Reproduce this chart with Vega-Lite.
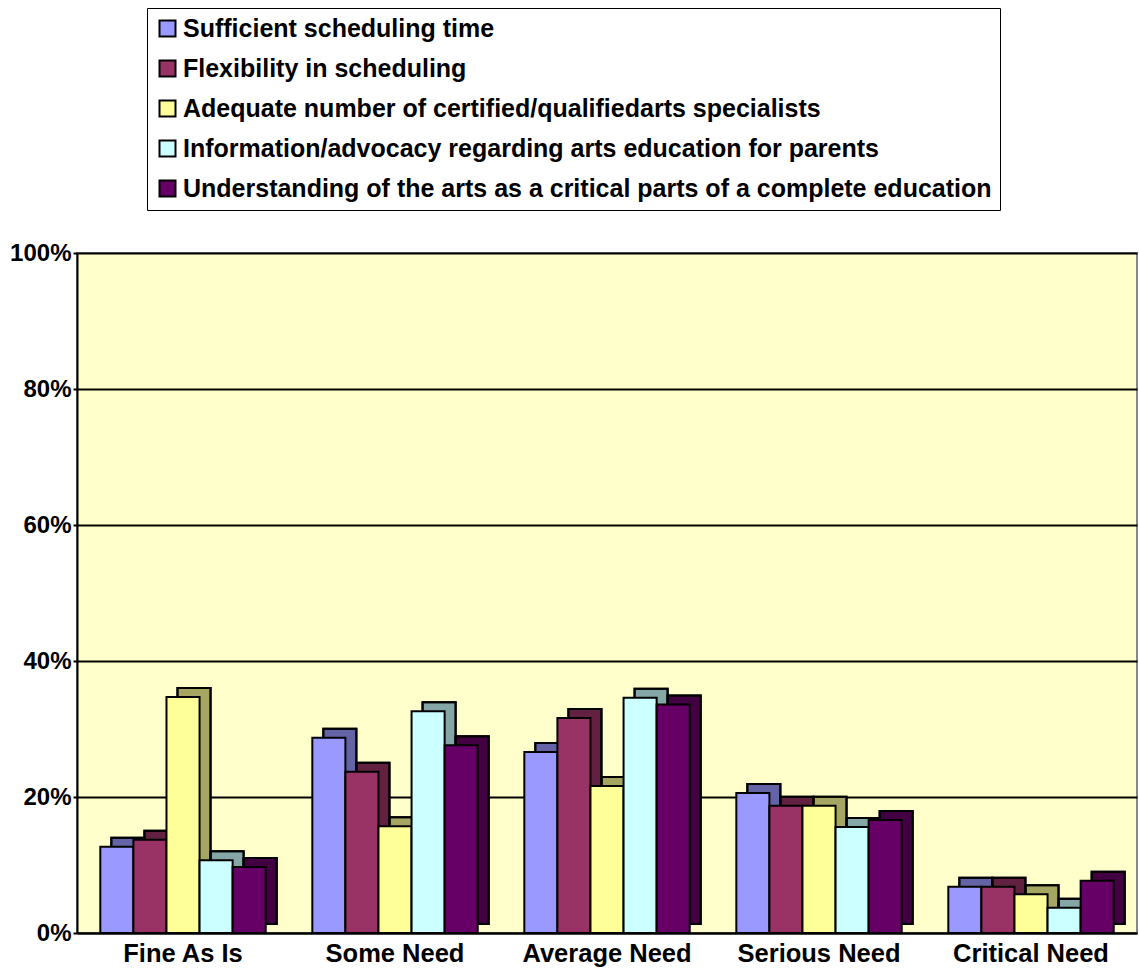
{
  "$schema": "https://vega.github.io/schema/vega-lite/v6.json",
  "autosize": "none",
  "width": 1060,
  "height": 680,
  "padding": {"left": 77, "top": 253, "right": 2, "bottom": 35},
  "background": "white",
  "config": {
    "font": "Liberation Sans",
    "view": {"fill": "#FFFFCC", "stroke": "#888888", "strokeWidth": 2}
  },
  "data": {
    "values": [
      {"cat": "Fine As Is", "series": "Sufficient scheduling time", "value": 12.7},
      {"cat": "Fine As Is", "series": "Flexibility in scheduling", "value": 13.7},
      {"cat": "Fine As Is", "series": "Adequate number of certified/qualifiedarts specialists", "value": 34.7},
      {"cat": "Fine As Is", "series": "Information/advocacy regarding arts education for parents", "value": 10.7},
      {"cat": "Fine As Is", "series": "Understanding of the arts as a critical parts of a complete education", "value": 9.7},
      {"cat": "Some Need", "series": "Sufficient scheduling time", "value": 28.7},
      {"cat": "Some Need", "series": "Flexibility in scheduling", "value": 23.7},
      {"cat": "Some Need", "series": "Adequate number of certified/qualifiedarts specialists", "value": 15.7},
      {"cat": "Some Need", "series": "Information/advocacy regarding arts education for parents", "value": 32.6},
      {"cat": "Some Need", "series": "Understanding of the arts as a critical parts of a complete education", "value": 27.6},
      {"cat": "Average Need", "series": "Sufficient scheduling time", "value": 26.6},
      {"cat": "Average Need", "series": "Flexibility in scheduling", "value": 31.6},
      {"cat": "Average Need", "series": "Adequate number of certified/qualifiedarts specialists", "value": 21.6},
      {"cat": "Average Need", "series": "Information/advocacy regarding arts education for parents", "value": 34.6},
      {"cat": "Average Need", "series": "Understanding of the arts as a critical parts of a complete education", "value": 33.6},
      {"cat": "Serious Need", "series": "Sufficient scheduling time", "value": 20.6},
      {"cat": "Serious Need", "series": "Flexibility in scheduling", "value": 18.7},
      {"cat": "Serious Need", "series": "Adequate number of certified/qualifiedarts specialists", "value": 18.7},
      {"cat": "Serious Need", "series": "Information/advocacy regarding arts education for parents", "value": 15.6},
      {"cat": "Serious Need", "series": "Understanding of the arts as a critical parts of a complete education", "value": 16.6},
      {"cat": "Critical Need", "series": "Sufficient scheduling time", "value": 6.8},
      {"cat": "Critical Need", "series": "Flexibility in scheduling", "value": 6.8},
      {"cat": "Critical Need", "series": "Adequate number of certified/qualifiedarts specialists", "value": 5.7},
      {"cat": "Critical Need", "series": "Information/advocacy regarding arts education for parents", "value": 3.7},
      {"cat": "Critical Need", "series": "Understanding of the arts as a critical parts of a complete education", "value": 7.7}
    ]
  },
  "encoding": {
    "x": {
      "field": "cat",
      "type": "nominal",
      "sort": ["Fine As Is", "Some Need", "Average Need", "Serious Need", "Critical Need"],
      "scale": {"paddingInner": 0.22, "paddingOuter": 0.11},
      "axis": {
        "title": null,
        "labelAngle": 0,
        "labelFont": "Liberation Sans",
        "labelFontWeight": "bold",
        "labelFontSize": 25.5,
        "labelColor": "black",
        "labelPadding": 8,
        "ticks": false,
        "domainColor": "black",
        "domainWidth": 2
      }
    },
    "y": {
      "field": "value",
      "type": "quantitative",
      "scale": {"domain": [0, 100]},
      "axis": {
        "title": null,
        "values": [0, 20, 40, 60, 80, 100],
        "labelExpr": "datum.value + '%'",
        "labelFont": "Liberation Sans",
        "labelFontWeight": "bold",
        "labelFontSize": 24,
        "labelColor": "black",
        "labelPadding": 2,
        "tickColor": "black",
        "tickSize": 4,
        "tickWidth": 2,
        "domainColor": "black",
        "domainWidth": 2,
        "grid": true,
        "gridColor": "black",
        "gridWidth": 2
      }
    }
  },
  "resolve": {"scale": {"xOffset": "independent"}},
  "layer": [
    {
      "mark": {"type": "bar", "stroke": "black", "strokeWidth": 2, "yOffset": -9},
      "encoding": {
        "xOffset": {
          "field": "series",
          "type": "nominal",
          "sort": [
            "Sufficient scheduling time",
            "Flexibility in scheduling",
            "Adequate number of certified/qualifiedarts specialists",
            "Information/advocacy regarding arts education for parents",
            "Understanding of the arts as a critical parts of a complete education"
          ],
          "scale": {"paddingInner": 0, "paddingOuter": 0, "range": [11, 176.4]}
        },
        "color": {
          "field": "series",
          "type": "nominal",
          "scale": {
            "domain": [
              "Sufficient scheduling time",
              "Flexibility in scheduling",
              "Adequate number of certified/qualifiedarts specialists",
              "Information/advocacy regarding arts education for parents",
              "Understanding of the arts as a critical parts of a complete education"
            ],
            "range": ["#9999FF", "#993366", "#FFFF99", "#CCFFFF", "#660066"]
          },
          "legend": {
            "title": null,
            "orient": "none",
            "legendX": 70,
            "legendY": -245,
            "symbolType": "square",
            "symbolSize": 256,
            "symbolStrokeColor": "black",
            "symbolStrokeWidth": 2,
            "symbolOpacity": 1,
            "labelFont": "Liberation Sans",
            "labelFontWeight": "bold",
            "labelFontSize": 25,
            "labelColor": "black",
            "labelLimit": 1000,
            "labelOffset": 3,
            "rowPadding": 14,
            "padding": 8,
            "strokeColor": "black",
            "fillColor": "white"
          }
        }
      }
    },
    {
      "mark": {"type": "bar", "fill": "black", "fillOpacity": 0.35, "stroke": "black", "strokeWidth": 2, "yOffset": -9},
      "encoding": {
        "xOffset": {
          "field": "series",
          "type": "nominal",
          "sort": [
            "Sufficient scheduling time",
            "Flexibility in scheduling",
            "Adequate number of certified/qualifiedarts specialists",
            "Information/advocacy regarding arts education for parents",
            "Understanding of the arts as a critical parts of a complete education"
          ],
          "scale": {"paddingInner": 0, "paddingOuter": 0, "range": [11, 176.4]}
        }
      }
    },
    {
      "mark": {"type": "bar", "stroke": "black", "strokeWidth": 2},
      "encoding": {
        "xOffset": {
          "field": "series",
          "type": "nominal",
          "sort": [
            "Sufficient scheduling time",
            "Flexibility in scheduling",
            "Adequate number of certified/qualifiedarts specialists",
            "Information/advocacy regarding arts education for parents",
            "Understanding of the arts as a critical parts of a complete education"
          ],
          "scale": {"paddingInner": 0, "paddingOuter": 0, "range": [0, 165.4]}
        },
        "color": {
          "field": "series",
          "type": "nominal"
        }
      }
    }
  ]
}
